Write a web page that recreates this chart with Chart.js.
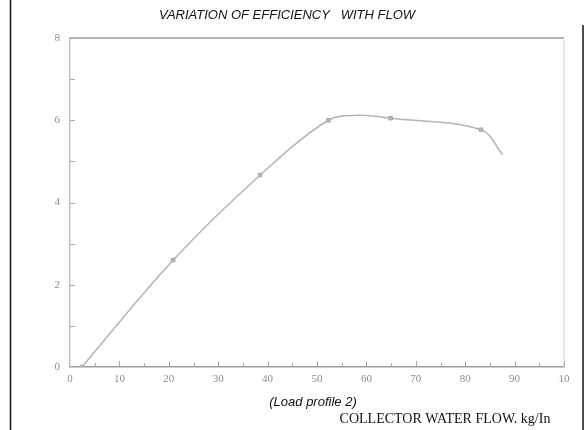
<!DOCTYPE html>
<html>
<head>
<meta charset="utf-8">
<script src="https://cdn.jsdelivr.net/npm/chart.js@4.4.1/dist/chart.umd.min.js"></script>
<style>
  html, body { margin: 0; padding: 0; background: #fff; }
  #wrap { width: 585px; height: 430px; }
</style>
</head>
<body>
<div id="wrap"><canvas id="effChart" width="585" height="430"></canvas></div>
<script>
// --- data ---
const flow = [2.4, 20.9, 38.5, 52.3, 58.2, 64.9, 83.2, 87.6];
const efficiency = [0, 2.6, 4.67, 6.0, 6.12, 6.05, 5.77, 5.16];
const markerShown = [true, true, true, true, false, true, true, false];

const xTickLabels = ['0', '10', '20', '30', '40', '50', '60', '70', '80', '90', '10'];
const yTickLabels = ['0', '2', '4', '6', '8'];

const chartTitle = 'VARIATION OF EFFICIENCY   WITH FLOW';
const profileLabel = '(Load profile 2)';
const axisLabel = 'COLLECTOR WATER FLOW. kg/In';

// frame lines, minor ticks and bottom labels
const framePlugin = {
    id: 'frame',
    beforeDatasetsDraw(chart) {
        const { ctx, chartArea: a, scales: { x, y } } = chart;
        ctx.save();
        // top edge of plot
        ctx.strokeStyle = '#9a9a9a';
        ctx.lineWidth = 1.5;
        ctx.beginPath();
        ctx.moveTo(a.left, a.top);
        ctx.lineTo(a.right, a.top);
        ctx.stroke();
        // faint right edge
        ctx.strokeStyle = '#e2e2e2';
        ctx.beginPath();
        ctx.moveTo(a.right, a.top);
        ctx.lineTo(a.right, a.bottom);
        ctx.stroke();
        // small inward ticks
        ctx.strokeStyle = '#a8a8a8';
        ctx.lineWidth = 1;
        for (let v = 5; v <= 100; v += 5) {
            const px = Math.round(x.getPixelForValue(v)) + 0.5;
            ctx.beginPath();
            ctx.moveTo(px, a.bottom);
            ctx.lineTo(px, a.bottom - (v % 10 === 0 ? 6 : 4));
            ctx.stroke();
        }
        for (let v = 1; v < 8; v++) {
            const py = Math.round(y.getPixelForValue(v)) + 0.5;
            ctx.beginPath();
            ctx.moveTo(a.left, py);
            ctx.lineTo(a.left + 5, py);
            ctx.stroke();
        }
        ctx.restore();
    },
    afterDraw(chart) {
        const { ctx, height } = chart;
        ctx.save();
        // page border lines
        ctx.strokeStyle = '#111';
        ctx.lineWidth = 1.5;
        ctx.beginPath();
        ctx.moveTo(10.5, 0);
        ctx.lineTo(10.5, height);
        ctx.moveTo(583, 25);
        ctx.lineTo(583, height);
        ctx.stroke();

        ctx.fillStyle = '#111';
        ctx.textAlign = 'center';
        ctx.textBaseline = 'middle';
        ctx.font = 'italic 13px "Liberation Sans", Arial, sans-serif';
        ctx.fillText(profileLabel, 313, 402);
        ctx.font = '14px "Liberation Serif", "Times New Roman", serif';
        ctx.fillText(axisLabel, 445, 419);
        ctx.restore();
    }
};

const ctx = document.getElementById('effChart').getContext('2d');

new Chart(ctx, {
    type: 'line',
    data: {
        datasets: [{
            label: 'Efficiency',
            data: flow.map((f, i) => ({ x: f, y: efficiency[i] })),
            borderColor: '#b4b4b4',
            borderWidth: 1.5,
            tension: 0.35,
            pointStyle: 'rect',
            pointRadius: markerShown.map(m => m ? 2.5 : 0),
            pointBackgroundColor: '#b8b8b8',
            pointBorderColor: '#a8a8a8',
            pointBorderWidth: 1,
            fill: false
        }]
    },
    options: {
        responsive: false,
        animation: false,
        layout: { padding: { left: 10, right: 21, top: 0, bottom: 0 } },
        plugins: {
            legend: { display: false },
            tooltip: { enabled: false },
            title: {
                display: true,
                text: chartTitle,
                color: '#111',
                font: { family: '"Liberation Sans", Arial, sans-serif', style: 'italic', weight: 'normal', size: 13 },
                padding: { top: 8, bottom: 14.4 }
            }
        },
        scales: {
            x: {
                type: 'linear',
                min: 0,
                max: 100,
                afterFit: s => { s.height = 63; },
                ticks: {
                    stepSize: 10,
                    padding: 6,
                    maxRotation: 0,
                    color: '#8c8c8c',
                    font: { family: '"Liberation Serif", serif', size: 11 },
                    callback: (v) => xTickLabels[Math.round(v / 10)]
                },
                grid: { display: true, drawOnChartArea: false, drawTicks: false },
                border: { color: '#9c9c9c', width: 1.5 }
            },
            y: {
                min: 0,
                max: 8,
                afterFit: s => { s.width = 60; },
                ticks: {
                    stepSize: 2,
                    padding: 10,
                    color: '#8c8c8c',
                    font: { family: '"Liberation Serif", serif', size: 11 },
                    callback: (v) => yTickLabels[Math.round(v / 2)]
                },
                grid: { display: true, drawOnChartArea: false, drawTicks: false },
                border: { color: '#c4c4c4', width: 1.5 }
            }
        }
    },
    plugins: [framePlugin]
});
</script>
</body>
</html>
